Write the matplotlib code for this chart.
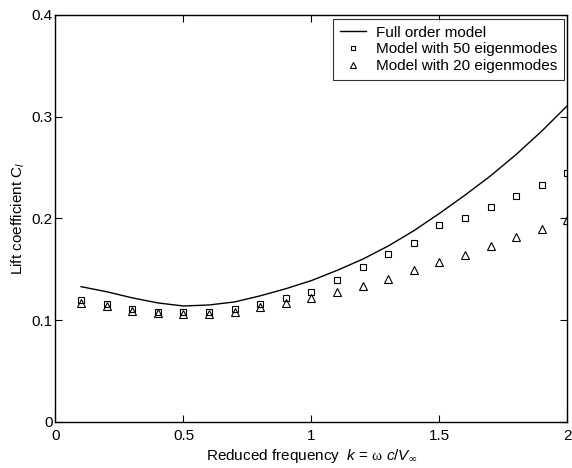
import matplotlib
matplotlib.use("Agg")
import matplotlib.pyplot as plt

plt.rcParams['font.family'] = ['Liberation Sans', 'DejaVu Sans']
plt.rcParams['mathtext.fontset'] = 'custom'
plt.rcParams['mathtext.rm'] = 'Liberation Serif'
plt.rcParams['mathtext.it'] = 'Liberation Sans:italic'
plt.rcParams['mathtext.sf'] = 'Liberation Sans'

k = [0.1, 0.2, 0.3, 0.4, 0.5, 0.6, 0.7, 0.8, 0.9, 1.0,
     1.1, 1.2, 1.3, 1.4, 1.5, 1.6, 1.7, 1.8, 1.9, 2.0]
full_order = [0.133, 0.128, 0.122, 0.117, 0.114, 0.115, 0.118, 0.124, 0.131, 0.139,
              0.149, 0.160, 0.173, 0.188, 0.205, 0.223, 0.242, 0.263, 0.286, 0.311]
model_50 = [0.120, 0.116, 0.111, 0.108, 0.108, 0.108, 0.111, 0.116, 0.1215, 0.128,
            0.140, 0.152, 0.165, 0.176, 0.194, 0.200, 0.211, 0.222, 0.233, 0.245]
model_20 = [0.117, 0.114, 0.109, 0.107, 0.106, 0.106, 0.108, 0.113, 0.117, 0.122,
            0.1275, 0.134, 0.141, 0.149, 0.157, 0.164, 0.173, 0.1815, 0.190, 0.199]

xticks = [0, 0.5, 1, 1.5, 2]
xticklabels = ['0', '0.5', '1', '1.5', '2']
yticks = [0, 0.1, 0.2, 0.3, 0.4]
yticklabels = ['0', '0.1', '0.2', '0.3', '0.4']

fig = plt.figure(figsize=(5.72, 4.68), dpi=100)
ax = fig.add_axes([0.097, 0.0983, 0.8951, 0.8697])

ax.plot(k, full_order, color='black', lw=1.0, label='Full order model')
ax.plot(k, model_50, ls='none', marker='s', ms=4.5, mfc='none', mec='black', mew=0.8,
        label='Model with 50 eigenmodes')
ax.plot(k, model_20, ls='none', marker='^', ms=6, mfc='none', mec='black', mew=0.8,
        label='Model with 20 eigenmodes')

ax.set_xlim(0, 2)
ax.set_ylim(0, 0.4)
ax.set_xticks(xticks)
ax.set_xticklabels(xticklabels)
ax.set_yticks(yticks)
ax.set_yticklabels(yticklabels)
ax.tick_params(direction='in', top=True, right=True, length=5, width=0.8,
               labelsize=11)
ax.tick_params(axis='x', pad=5)
ax.tick_params(axis='y', pad=2)
for s in ax.spines.values():
    s.set_linewidth(1.0)

ax.set_xlabel(r'Reduced frequency  $k$ = $\mathrm{\omega}$ $c$/$V_{\infty}$', fontsize=11, labelpad=3)
ax.set_ylabel(r'Lift coefficient C$_{l}$', fontsize=11, labelpad=3)

leg = ax.legend(loc='upper right', fontsize=11, frameon=True, fancybox=False,
                edgecolor='black', borderpad=0.45, labelspacing=0.18, handlelength=1.7,
                handletextpad=0.65, borderaxespad=0.25, markerscale=0.7)
leg.get_frame().set_linewidth(0.8)

fig.savefig('out.png', dpi=100)
